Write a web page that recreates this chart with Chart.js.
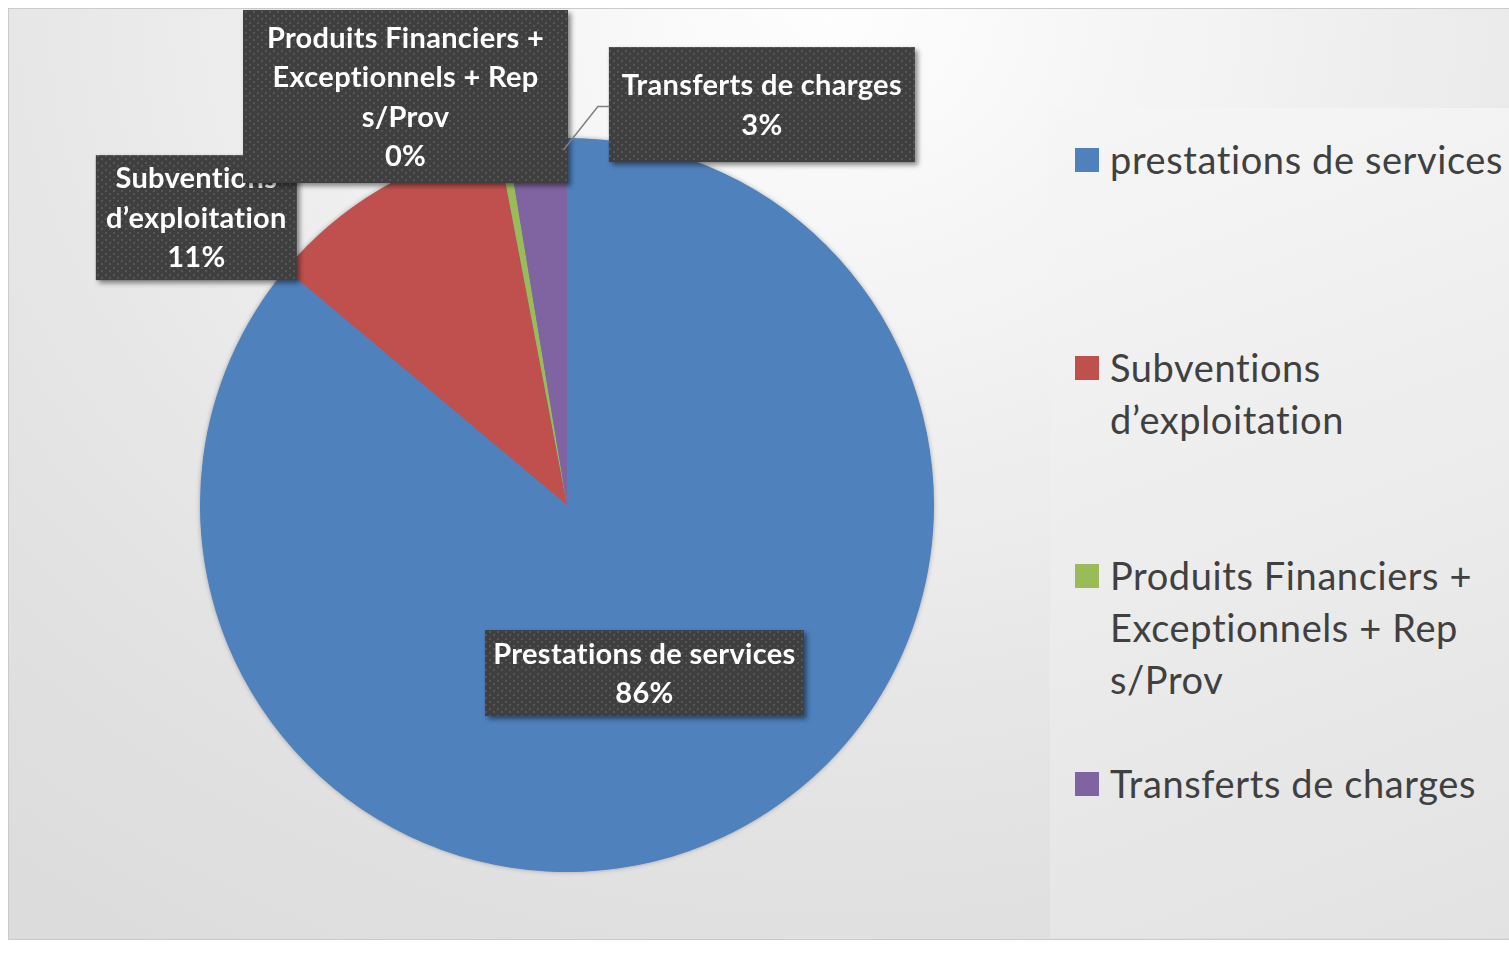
<!DOCTYPE html>
<html>
<head>
<meta charset="utf-8">
<script src="https://cdn.jsdelivr.net/npm/chart.js@4.4.1/dist/chart.umd.min.js"></script>
<style>
  html, body { margin: 0; padding: 0; background: #ffffff; }
  body { width: 1509px; height: 953px; overflow: hidden; position: relative; font-family: Lato, "Open Sans", sans-serif; }
  #frame { position: absolute; left: 8px; top: 8px; width: 1530px; height: 930px;
    border: 1.5px solid #cbcbcb;
    background: radial-gradient(ellipse 1300px 1100px at 820px 0px, #fefefe 0%, #f1f1f1 35%, #e4e4e4 70%, #dcdcdc 100%); }
  #legendPanel { position: absolute; left: 1050px; top: 108px; width: 480px; height: 830px;
    background: linear-gradient(160deg, #f6f6f6 0%, #ededed 45%, #e2e2e2 100%); }
  #legend { position: absolute; left: 1075px; top: 133px; width: 440px; }
  .item { height: 208px; position: relative; }
  .sw { position: absolute; left: 0; top: 15px; width: 24px; height: 24px; }
  .txt { position: absolute; left: 35px; top: 0; width: 420px; font-size: 38px; letter-spacing: 0.6px; line-height: 52px; color: #404040; white-space: pre; font-variant-ligatures: none; }
  #c { position: absolute; left: 0; top: 0; }
</style>
</head>
<body>
<div id="frame"></div>
<div id="legendPanel"></div>
<div id="legend"></div>
<canvas id="c" width="1040" height="953"></canvas>
<script>
// ---- data ----
const categories = ['prestations de services', 'Subventions d’exploitation', 'Produits Financiers + Exceptionnels + Rep s/Prov', 'Transferts de charges'];
const dataLabelNames = ['Prestations de services', 'Subventions d’exploitation', 'Produits Financiers + Exceptionnels + Rep s/Prov', 'Transferts de charges'];
const values = [86.1, 10.9, 0.4, 2.6];

// ---- styles ----
const colors = ['#4F81BD', '#C0504D', '#9BBB59', '#8064A2'];
const legendLineBreaks = [[], [11], [21, 41], []]; // word-wrap points for legend text (character indices)

// legend (HTML)
const legendEl = document.getElementById('legend');
categories.forEach((name, i) => {
  const item = document.createElement('div');
  item.className = 'item';
  const sw = document.createElement('div');
  sw.className = 'sw';
  sw.style.background = colors[i];
  const t = document.createElement('div');
  t.className = 'txt';
  let s = name, out = '', last = 0;
  legendLineBreaks[i].forEach(p => { out += s.slice(last, p).trim() + '\n'; last = p; });
  out += s.slice(last).trim();
  t.textContent = out;
  item.appendChild(sw); item.appendChild(t);
  legendEl.appendChild(item);
});

// dotted pattern for label boxes
function makePattern(ctx) {
  const pc = document.createElement('canvas');
  pc.width = 8; pc.height = 7;
  const p = pc.getContext('2d');
  p.fillStyle = '#3f3f3f'; p.fillRect(0, 0, 8, 7);
  p.fillStyle = '#565656';
  p.fillRect(1, 1, 2, 2);
  p.fillRect(5, 4, 2, 2);
  return ctx.createPattern(pc, 'repeat');
}

function wrapText(ctx, text, maxW) {
  const words = text.split(' ');
  const lines = [];
  let cur = '';
  words.forEach(w => {
    const test = cur ? cur + ' ' + w : w;
    if (ctx.measureText(test).width > maxW && cur) { lines.push(cur); cur = w; }
    else cur = test;
  });
  if (cur) lines.push(cur);
  return lines;
}

const pieShadow = {
  id: 'pieShadow',
  beforeDatasetsDraw(chart) {
    const a = chart.getDatasetMeta(0).data[0];
    const ctx = chart.ctx;
    ctx.save();
    ctx.shadowColor = 'rgba(0,0,0,0.35)';
    ctx.shadowBlur = 5;
    ctx.fillStyle = colors[0];
    ctx.beginPath();
    ctx.arc(a.x, a.y, a.outerRadius - 0.5, 0, Math.PI * 2);
    ctx.fill();
    ctx.restore();
  }
};

const boxLabels = {
  id: 'boxLabels',
  afterDatasetsDraw(chart, args, opts) {
    const ctx = chart.ctx;
    const meta = chart.getDatasetMeta(0);
    const a0 = meta.data[0];
    const cx = a0.x, cy = a0.y, r = a0.outerRadius;
    const total = values.reduce((s, v) => s + v, 0);
    const pattern = makePattern(ctx);
    ctx.save();
    ctx.font = opts.font;
    if ('letterSpacing' in ctx) ctx.letterSpacing = opts.letterSpacing;
    opts.boxes.forEach((b, i) => {
      const bx = cx + b.dx * r - b.w / 2;
      const by = cy + b.dy * r - b.h / 2;
      // leader line
      if (b.leader) {
        const arc = meta.data[i];
        const ang = arc.endAngle - 0.01;
        const rr = r - 12;
        const px = cx + Math.cos(ang) * rr, py = cy + Math.sin(ang) * rr;
        const sy = by + b.h / 2 + 2;
        ctx.strokeStyle = '#7f7f7f';
        ctx.lineWidth = 1.5;
        ctx.beginPath();
        ctx.moveTo(bx, sy);
        ctx.lineTo(bx - 11, sy);
        ctx.lineTo(px, py);
        ctx.stroke();
      }
      ctx.save();
      ctx.shadowColor = 'rgba(0,0,0,0.45)';
      ctx.shadowBlur = 5;
      ctx.shadowOffsetX = 3;
      ctx.shadowOffsetY = 3;
      ctx.fillStyle = pattern;
      ctx.fillRect(bx, by, b.w, b.h);
      ctx.restore();
      const lines = wrapText(ctx, dataLabelNames[i], b.w - 4);
      lines.push(Math.round(values[i] / total * 100) + '%');
      const lh = opts.lineHeight;
      const startY = by + b.h / 2 - (lines.length - 1) * lh / 2;
      ctx.fillStyle = '#ffffff';
      ctx.textAlign = 'center';
      ctx.textBaseline = 'middle';
      lines.forEach((ln, k) => ctx.fillText(ln, bx + b.w / 2, startY + k * lh + 1));
    });
    ctx.restore();
  }
};

new Chart(document.getElementById('c'), {
  type: 'pie',
  data: {
    labels: categories,
    datasets: [{ data: values, backgroundColor: colors, borderWidth: 0 }]
  },
  options: {
    responsive: false,
    animation: false,
    events: [],
    layout: { padding: { left: 200, right: 106, top: 138, bottom: 81 } },
    plugins: {
      legend: { display: false },
      tooltip: { enabled: false },
      boxLabels: {
        font: 'bold 29px Lato, "Open Sans", sans-serif',
        letterSpacing: '0.3px',
        lineHeight: 39.5,
        boxes: [
          { dx: 0.211, dy: 0.458, w: 319, h: 86 },
          { dx: -1.010, dy: -0.783, w: 201, h: 125 },
          { dx: -0.440, dy: -1.113, w: 325, h: 173 },
          { dx: 0.531, dy: -1.091, w: 306, h: 115, leader: true }
        ]
      }
    }
  },
  plugins: [pieShadow, boxLabels]
});
</script>
</body>
</html>
